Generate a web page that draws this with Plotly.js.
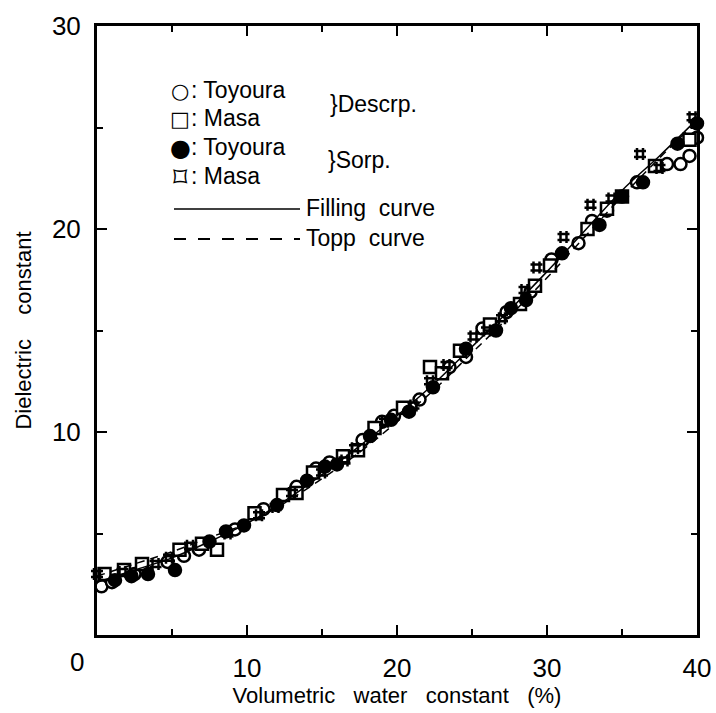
<!DOCTYPE html>
<html>
<head>
<meta charset="utf-8">
<script src="https://cdn.plot.ly/plotly-3.0.1.min.js"></script>
<style>html,body{margin:0;padding:0;background:#fff;}#chart{width:716px;height:713px;}</style>
</head>
<body>
<div id="chart"></div>
<script>
// ---- Data ----
const toyouraDescX = [0.3, 1.0, 2.5, 4.7, 5.8, 6.8, 9.2, 11.1, 13.3, 14.6, 15.5, 17.7, 19.0, 19.8, 21.5, 23.5, 24.6, 25.7, 27.3, 28.9, 30.3, 32.1, 33.0, 34.0, 36.0, 38.0, 38.9, 39.5, 40.0];
const toyouraDescY = [2.4, 2.6, 3.0, 3.6, 3.9, 4.2, 5.2, 6.2, 7.3, 8.2, 8.5, 9.6, 10.5, 10.8, 11.6, 13.2, 13.7, 15.1, 15.9, 16.9, 18.5, 19.3, 20.4, 20.9, 22.3, 23.2, 23.2, 23.6, 24.5];

const masaDescX = [0.5, 1.8, 3.0, 5.5, 7.0, 8.0, 10.5, 12.4, 13.3, 14.4, 16.4, 17.4, 18.5, 20.4, 22.2, 23.0, 24.2, 26.2, 28.2, 29.2, 30.2, 32.7, 34.0, 35.0, 37.2, 39.5];
const masaDescY = [3.0, 3.2, 3.5, 4.2, 4.5, 4.2, 6.0, 6.9, 7.0, 8.0, 8.8, 9.1, 10.2, 11.2, 13.2, 12.9, 14.0, 15.3, 16.3, 17.2, 18.2, 20.0, 21.0, 21.6, 23.1, 24.4];

const toyouraSorpX = [1.2, 2.3, 3.4, 5.2, 7.5, 8.6, 9.8, 12.0, 14.0, 15.2, 16.0, 18.2, 19.6, 20.8, 22.4, 24.6, 26.6, 27.6, 28.6, 31.0, 33.5, 35.0, 36.4, 38.7, 40.0];
const toyouraSorpY = [2.7, 2.9, 3.0, 3.2, 4.6, 5.1, 5.4, 6.4, 7.6, 8.3, 8.4, 9.8, 10.6, 11.0, 12.2, 14.1, 15.0, 16.1, 16.5, 18.8, 20.2, 21.6, 22.3, 24.2, 25.2];

const masaSorpX = [0.0, 1.7, 3.9, 4.8, 6.2, 8.7, 10.8, 11.9, 13.0, 15.0, 16.5, 17.2, 19.2, 21.1, 22.2, 23.3, 25.1, 26.0, 27.0, 28.5, 29.3, 31.1, 32.9, 34.3, 36.2, 37.5, 39.7];
const masaSorpY = [3.0, 3.1, 3.5, 3.8, 4.4, 5.0, 5.9, 6.3, 7.0, 8.0, 8.6, 9.2, 10.5, 11.3, 12.5, 13.3, 14.7, 15.0, 15.6, 17.0, 18.1, 19.6, 21.2, 21.5, 23.7, 23.0, 25.5];

const curveX = [0, 2.5, 5, 7.5, 10, 12.5, 15, 17.5, 20, 22.5, 25, 27.5, 30, 32.5, 35, 37.5, 40];
const fillingY = [2.6, 3.2, 3.8, 4.6, 5.5, 6.6, 7.9, 9.3, 10.8, 12.4, 14.2, 16.0, 17.9, 19.9, 21.9, 23.6, 25.4];
const toppY = [2.9, 3.5, 4.1, 4.8, 5.5, 6.5, 7.7, 9.0, 10.5, 12.1, 13.9, 15.7, 17.6, 19.6, 21.6, 23.5, 25.3];

const xTickVals = [10, 20, 30, 40];
const xTickText = ['10', '20', '30', '40'];
const yTickVals = [10, 20, 30];
const yTickText = ['10', '20', '30'];
const minorX = [5, 15, 25, 35];
const minorY = [5, 15, 25];

const legendSymbols = ['\u25CB', '\u25A1', '\u25CF', '\u2311'];
const legendNames = [': Toyoura', ': Masa', ': Toyoura', ': Masa'];
const legendGroups = ['}Descrp.', '}Sorp.'];
const curveNames = ['Filling\u00a0\u00a0curve', 'Topp\u00a0\u00a0curve'];

// ---- Layout geometry (pixels) ----
const W = 716, H = 713;
const M = {l: 97, r: 19, t: 26, b: 78};
const PW = W - M.l - M.r, PH = H - M.t - M.b;
const px = v => (v - M.l) / PW;
const py = v => (H - M.b - v) / PH;

const FONT = 'Liberation Sans, Arial, sans-serif';
const NARROW = 'Liberation Sans Narrow, Arial Narrow, Liberation Sans, sans-serif';
const LFS = 23;

const mk = (sym, fill) => ({symbol: sym, size: 12, color: fill ? 'black' : 'white', line: {color: 'black', width: 2.5}});

const traces = [
  {x: toyouraDescX, y: toyouraDescY, mode: 'markers', type: 'scatter', marker: mk('circle', false), cliponaxis: false},
  {x: masaDescX, y: masaDescY, mode: 'markers', type: 'scatter', marker: mk('square', false), cliponaxis: false},
  {x: toyouraSorpX, y: toyouraSorpY, mode: 'markers', type: 'scatter', marker: mk('circle', true), cliponaxis: false},
  {x: masaSorpX, y: masaSorpY, mode: 'markers', type: 'scatter', marker: {symbol: 'hash-open', size: 12, color: 'black', line: {color: 'black', width: 2.5}}, cliponaxis: false},
  {x: curveX, y: fillingY, mode: 'lines', type: 'scatter', line: {color: 'black', width: 1.5, shape: 'spline'}},
  {x: curveX, y: toppY, mode: 'lines', type: 'scatter', line: {color: 'black', width: 1.5, dash: '8px,6px', shape: 'spline'}}
];

const rowY = [90, 118, 147, 176];
const symSize = [21, 21, 24, 28];
const annotations = [];
legendSymbols.forEach((s, i) => annotations.push({
  xref: 'paper', yref: 'paper', x: px(180), y: py(rowY[i] + 1), xanchor: 'center', yanchor: 'middle',
  text: s, showarrow: false, font: {family: 'DejaVu Sans, sans-serif', size: symSize[i], color: 'black'}
}));
legendNames.forEach((t, i) => annotations.push({
  xref: 'paper', yref: 'paper', x: px(189), y: py(rowY[i]), xanchor: 'left', yanchor: 'middle',
  text: t, showarrow: false, font: {family: FONT, size: LFS, color: 'black'}
}));
annotations.push({xref: 'paper', yref: 'paper', x: px(328), y: py(104), xanchor: 'left', yanchor: 'middle',
  text: legendGroups[0], showarrow: false, font: {family: FONT, size: LFS, color: 'black'}});
annotations.push({xref: 'paper', yref: 'paper', x: px(326), y: py(160), xanchor: 'left', yanchor: 'middle',
  text: legendGroups[1], showarrow: false, font: {family: FONT, size: LFS, color: 'black'}});
annotations.push({xref: 'paper', yref: 'paper', x: px(304), y: py(208), xanchor: 'left', yanchor: 'middle',
  text: curveNames[0], showarrow: false, font: {family: FONT, size: LFS, color: 'black'}});
annotations.push({xref: 'paper', yref: 'paper', x: px(304), y: py(238), xanchor: 'left', yanchor: 'middle',
  text: curveNames[1], showarrow: false, font: {family: FONT, size: LFS, color: 'black'}});
annotations.push({xref: 'paper', yref: 'paper', x: px(77), y: py(662), xanchor: 'center', yanchor: 'middle',
  text: '0', showarrow: false, font: {family: NARROW, size: 26, color: 'black'}});

const shapes = [
  {type: 'line', xref: 'paper', yref: 'paper', x0: px(174), x1: px(300), y0: py(209), y1: py(209), line: {color: 'black', width: 1.5}},
  {type: 'line', xref: 'paper', yref: 'paper', x0: px(174), x1: px(300), y0: py(239), y1: py(239), line: {color: 'black', width: 2, dash: '12px,12px'}}
];

const axisCommon = {
  showline: true, linecolor: 'black', linewidth: 3, mirror: 'ticks',
  ticks: 'inside', ticklen: 10, tickwidth: 2, tickcolor: 'black',
  showgrid: false, zeroline: false, tickmode: 'array'
};

const layout = {
  width: W, height: H, margin: M, showlegend: false,
  paper_bgcolor: 'white', plot_bgcolor: 'white',
  xaxis: Object.assign({}, axisCommon, {
    range: [0, 40], tickvals: xTickVals, ticktext: xTickText,
    tickfont: {family: NARROW, size: 26, color: 'black'}, ticklabelstandoff: 8,
    minor: {tickvals: minorX, ticks: 'inside', ticklen: 6, tickwidth: 2, tickcolor: 'black', showgrid: false},
    title: {text: 'Volumetric\u00a0\u00a0\u00a0water\u00a0\u00a0\u00a0constant\u00a0\u00a0\u00a0(%)', font: {family: FONT, size: 22, color: 'black'}, standoff: 3}
  }),
  yaxis: Object.assign({}, axisCommon, {
    range: [0, 30], tickvals: yTickVals, ticktext: yTickText,
    tickfont: {family: FONT, size: 26, color: 'black'}, ticklabelstandoff: 8,
    minor: {tickvals: minorY, ticks: 'inside', ticklen: 6, tickwidth: 2, tickcolor: 'black', showgrid: false},
    title: {text: 'Dielectric\u00a0\u00a0\u00a0\u00a0constant', font: {family: FONT, size: 22, color: 'black'}, standoff: 15}
  }),
  annotations: annotations, shapes: shapes
};

Plotly.newPlot('chart', traces, layout, {displayModeBar: false, staticPlot: true});
</script>
</body>
</html>
